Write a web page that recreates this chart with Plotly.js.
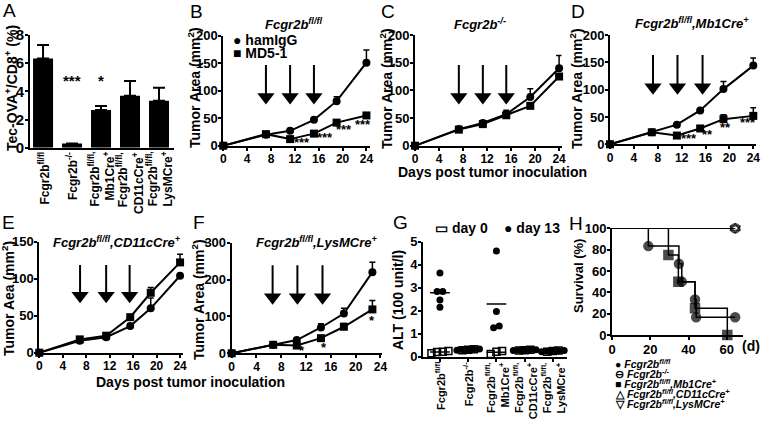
<!DOCTYPE html>
<html><head><meta charset="utf-8">
<script src="https://cdn.plot.ly/plotly-3.0.1.min.js"></script>
<style>
html,body{margin:0;padding:0;background:#fff;}
#chart{width:763px;height:421px;}
</style>
</head><body><div id="chart"></div>
<script>
// ---------- DATA ----------
// Panel A
const genotypeLabels = ['Fcgr2b<sup>fl/fl</sup>', 'Fcgr2b<sup>-/-</sup>', 'Fcgr2b<sup>fl/fl,</sup><br>Mb1Cre<sup>+</sup>', 'Fcgr2b<sup>fl/fl,</sup><br>CD11cCre<sup>+</sup>', 'Fcgr2b<sup>fl/fl,</sup><br>LysMCre<sup>+</sup>'];
const tetMean = [6.34, 0.3, 2.67, 3.69, 3.34];
const tetSem  = [0.95, 0.0, 0.29, 1.04, 0.92];
const tetSig  = ['', '***', '*', '', ''];

// Panel B  Fcgr2b fl/fl
const daysB = [0, 7.15, 11.2, 15.2, 19.0, 24];
const hamB = [0, 20, 27, 47, 81, 151];
const hamBErr = [0, 0, 0, 2, 8, 23];
const md5B = [0, 21, 12, 22, 42, 55];
const md5BErr = [0, 0, 0, 0, 0, 3];
const sigB = ['', '', '***', '***', '***', '***'];
const injB = [7.15, 11.2, 15.2];

// Panel C  Fcgr2b -/-
const daysC = [0, 7.3, 11.3, 15.2, 19.2, 24];
const hamC = [0, 30, 41, 57, 88, 140];
const hamCErr = [0, 0, 4, 7, 15, 23];
const md5C = [0, 29, 39, 55, 72, 125];
const md5CErr = [0, 0, 2, 3, 0, 0];
const injC = [7.3, 11.3, 15.2];

// Panel D  Mb1Cre
const daysD = [0, 7.0, 11.2, 15.1, 19.0, 24];
const hamD = [0, 22, 36, 62, 101, 144];
const hamDErr = [0, 0, 0, 2, 14, 14];
const md5D = [0, 22, 16, 29, 46, 52];
const md5DErr = [0, 0, 0, 0, 8, 15];
const sigD = ['', '', '***', '**', '**', '***'];
const injD = [7.2, 11.3, 15.5];

// Panel E  CD11cCre
const daysE = [0, 6.9, 11.4, 15.5, 19.0, 24];
const hamE = [0, 16, 21, 36, 60, 104];
const hamEErr = [0, 0, 0, 0, 14, 0];
const md5E = [0, 18, 23, 48, 81, 122];
const md5EErr = [0, 0, 0, 0, 7, 11];
const injE = [6.95, 11.4, 15.4];

// Panel F  LysMCre
const daysF = [0, 6.7, 10.5, 14.4, 18.1, 22.7];
const hamF = [0, 23, 36, 70, 108, 220];
const hamFErr = [0, 0, 0, 10, 14, 27];
const md5F = [0, 23, 21, 41, 72, 119];
const md5FErr = [0, 0, 0, 0, 9, 24];
const sigF = ['', '', '*', '*', '', '*'];
const injF = [6.6, 10.6, 14.65];

// Panel G  ALT
const altDay0 = [[0.22, 0.15, 0.25, 0.2], [0.3, 0.28, 0.32], [0.22, 0.25, 0.12], [0.28, 0.3, 0.27], [0.25, 0.22, 0.27]];
const altDay13 = [[3.64, 2.83, 2.83, 2.46, 2.15], [0.3, 0.33, 0.28, 0.32, 0.3], [4.6, 1.96, 1.33, 1.26], [0.28, 0.3, 0.27, 0.29, 0.3], [0.25, 0.22, 0.27, 0.24, 0.26]];

// Panel H  survival
const survNames = ['Fcgr2b<sup>fl/fl</sup>', 'Fcgr2b<sup>-/-</sup>', 'Fcgr2b<sup>fl/fl</sup>,Mb1Cre<sup>+</sup>', 'Fcgr2b<sup>fl/fl</sup>,CD11cCre<sup>+</sup>', 'Fcgr2b<sup>fl/fl</sup>,LysMCre<sup>+</sup>'];
const survFlDays = [0, 19, 35, 36.5, 43.4, 44, 64.4];
const survFlPct = [100, 83.3, 66.7, 50, 33.3, 16.7, 16.7];
const survKODays = [0, 64.4];
const survKOPct = [100, 100];
const survMb1Days = [0, 29.5, 34.7, 43.4, 60.3];
const survMb1Pct = [100, 75, 50, 25, 0];
const survCD11cDays = [0, 64.4];
const survCD11cPct = [100, 100];
const survLysMDays = [0, 64.4];
const survLysMPct = [100, 100];

// ---------- LAYOUT HELPERS ----------
const W = 763, H = 421;
const FONT = '"Liberation Sans", Arial, sans-serif';
const xd = (a, b) => [a / W, b / W];
const yd = (top, bottom) => [1 - bottom / H, 1 - top / H];
const K = '#000';

function axis(extra) {
  return Object.assign({
    showline: true, linewidth: 2, linecolor: K, ticks: 'outside', ticklen: 3, tickwidth: 2, tickcolor: K,
    showgrid: false, zeroline: false, fixedrange: true, ticklabelstandoff: -2,
    tickfont: {family: FONT, size: 12, weight: 'bold', color: K}
  }, extra);
}
const tf = (s) => ({family: FONT, size: s, weight: 'bold', color: K});
const dayTicks = [0, 4, 8, 12, 16, 20, 24];

const traces = [];
const annotations = [];

// category labels under a categorical axis (A and G)
function catLabels(xa, topPx, size) {
  genotypeLabels.forEach((t, i) => {
    annotations.push({xref: xa, yref: 'paper', x: i, y: 1 - topPx / H, text: t, showarrow: false,
      textangle: -90, xanchor: 'center', yanchor: 'top', align: 'right', borderpad: 0,
      font: {family: FONT, size: size, weight: 'bold', color: K}});
  });
}

// ---------- PANEL A ----------
traces.push({
  type: 'bar', x: tetMean.map((v, i) => i), y: tetMean, xaxis: 'x', yaxis: 'y', width: 0.69,
  marker: {color: K}, showlegend: false,
  error_y: {type: 'data', symmetric: false, array: tetSem, arrayminus: tetSem.map(() => 0), color: K, thickness: 2, width: 6}
});
tetSig.forEach((s, i) => {
  if (s) annotations.push({xref: 'x', yref: 'y', x: i, y: 4.75, text: s, showarrow: false,
    font: {family: FONT, size: 15, weight: 'bold', color: K}});
});
catLabels('x', 151, 12);

// ---------- LINE PANELS ----------
function linePanel(xa, ya, days, ham, hamErr, md5, md5Err) {
  const zeros = days.map(() => 0);
  const common = {type: 'scatter', mode: 'lines+markers', xaxis: xa, yaxis: ya, cliponaxis: false, showlegend: false};
  traces.push(Object.assign({}, common, {x: days, y: ham, line: {color: K, width: 2},
    marker: {symbol: 'circle', size: 8, color: K},
    error_y: {type: 'data', symmetric: false, array: hamErr, arrayminus: zeros, color: K, thickness: 1.5, width: 3}}));
  traces.push(Object.assign({}, common, {x: days, y: md5, line: {color: K, width: 2},
    marker: {symbol: 'square', size: 8, color: K},
    error_y: {type: 'data', symmetric: false, array: md5Err, arrayminus: zeros, color: K, thickness: 1.5, width: 3}}));
}
function arrows(xa, ya, inj, ymax, topFrac, headFrac) {
  const sx = [], sy = [];
  inj.forEach(d => { sx.push(d, d, null); sy.push(topFrac * ymax, headFrac * ymax, null); });
  traces.push({type: 'scatter', mode: 'lines', x: sx, y: sy, xaxis: xa, yaxis: ya, line: {color: K, width: 2}, showlegend: false, cliponaxis: false});
  traces.push({type: 'scatter', mode: 'markers', x: inj, y: inj.map(() => headFrac * ymax), xaxis: xa, yaxis: ya,
    marker: {symbol: 'triangle-down', size: 15, color: K}, showlegend: false, cliponaxis: false});
}
// star offsets (pixels) relative to the MD5-1 point: [dx, dy-down]
function stars(xa, ya, days, vals, sig, offs) {
  let k = 0;
  sig.forEach((s, i) => {
    if (s) {
      const o = offs[k++];
      annotations.push({xref: xa, yref: ya, x: days[i], y: vals[i], text: s, showarrow: false,
        xshift: o[0], yshift: -o[1], font: {family: FONT, size: 13, weight: 'bold', color: K}});
    }
  });
}

arrows('x2', 'y2', injB, 200, 0.734, 0.443);
linePanel('x2', 'y2', daysB, hamB, hamBErr, md5B, md5BErr);
stars('x2', 'y2', daysB, md5B, sigB, [[12, 3], [11, 4], [7, 7], [-3, 9]]);

arrows('x3', 'y3', injC, 200, 0.73, 0.44);
linePanel('x3', 'y3', daysC, hamC, hamCErr, md5C, md5CErr);

arrows('x4', 'y4', injD, 200, 0.817, 0.522);
linePanel('x4', 'y4', daysD, hamD, hamDErr, md5D, md5DErr);
stars('x4', 'y4', daysD, md5D, sigD, [[12, 3], [7, 6], [2, 8], [-5, 7]]);

arrows('x5', 'y5', injE, 150, 0.79, 0.514);
linePanel('x5', 'y5', daysE, hamE, hamEErr, md5E, md5EErr);

arrows('x6', 'y6', injF, 300, 0.797, 0.507);
linePanel('x6', 'y6', daysF, hamF, hamFErr, md5F, md5FErr);
stars('x6', 'y6', daysF, md5F, sigF, [[5, 5], [3, 9], [0, 11]]);

// ---------- PANEL G ----------
function spread(vals, center) {
  const idx = vals.map((v, i) => i).sort((a, b) => vals[a] - vals[b]);
  const xs = new Array(vals.length);
  let cl = [idx[0]];
  const flush = () => { const n = cl.length; cl.forEach((k, j) => { xs[k] = center + (j - (n - 1) / 2) * 0.2; }); };
  for (let i = 1; i < idx.length; i++) {
    if (vals[idx[i]] - vals[idx[i - 1]] < 0.2) cl.push(idx[i]); else { flush(); cl = [idx[i]]; }
  }
  flush();
  return xs;
}
function collect(groups) {
  const x = [], y = [], mx = [], my = [];
  groups.forEach((g, i) => {
    spread(g, i).forEach((v, j) => { x.push(v); y.push(g[j]); });
    const m = g.reduce((a, b) => a + b, 0) / g.length;
    mx.push(i - 0.35, i + 0.35, null); my.push(m, m, null);
  });
  return {x, y, mx, my};
}
const g0 = collect(altDay0), g13 = collect(altDay13);
traces.push({type: 'scatter', mode: 'lines', x: g0.mx, y: g0.my, xaxis: 'x7', yaxis: 'y7', line: {color: K, width: 1.5}, showlegend: false, cliponaxis: false});
traces.push({type: 'scatter', mode: 'markers', x: g0.x, y: g0.y, xaxis: 'x7', yaxis: 'y7',
  marker: {symbol: 'square-open', size: 7, color: K, line: {width: 1.5, color: K}}, showlegend: false, cliponaxis: false});
traces.push({type: 'scatter', mode: 'lines', x: g13.mx, y: g13.my, xaxis: 'x7', yaxis: 'y7', line: {color: K, width: 1.5}, showlegend: false, cliponaxis: false});
traces.push({type: 'scatter', mode: 'markers', x: g13.x, y: g13.y, xaxis: 'x7', yaxis: 'y7',
  marker: {symbol: 'circle', size: 7, color: K}, showlegend: false, cliponaxis: false});
catLabels('x7', 361, 11);

// ---------- PANEL H ----------
function surv(x, y, symbol) {
  traces.push({type: 'scatter', mode: 'lines+markers', x: x, y: y, xaxis: 'x8', yaxis: 'y8', line: {shape: 'hv', color: K, width: 1.5},
    marker: {symbol: symbol, size: x.map((v, i) => i === 0 ? 0 : 9), color: K, line: {width: 1.5, color: K}},
    showlegend: false, cliponaxis: false});
}
surv(survKODays, survKOPct, 'circle-open');
surv(survCD11cDays, survCD11cPct, 'triangle-up-open');
surv(survLysMDays, survLysMPct, 'triangle-down-open');
surv(survMb1Days, survMb1Pct, 'square');
surv(survFlDays, survFlPct, 'circle');

// ---------- TEXT ANNOTATIONS ----------
function txt(x, y, text, opts) {
  opts = opts || {};
  annotations.push({
    xref: 'paper', yref: 'paper', x: x / W, y: 1 - y / H, text: text, showarrow: false,
    xanchor: opts.xanchor || 'center', yanchor: 'middle', textangle: opts.angle || 0,
    font: {family: FONT, size: opts.size || 14, weight: opts.weight || 'bold', style: opts.style || 'normal', color: K}
  });
}
// panel letters
[['A', 9, 11], ['B', 196, 12], ['C', 388, 12], ['D', 578, 12], ['E', 8, 222], ['F', 199, 222], ['G', 400, 222], ['H', 576, 223]]
  .forEach(p => txt(p[1], p[2], p[0], {size: 19, weight: 'normal'}));
// panel titles
txt(293, 24, 'Fcgr2b<sup>fl/fl</sup>', {size: 13, style: 'italic'});
txt(480, 24, 'Fcgr2b<sup>-/-</sup>', {size: 13, style: 'italic'});
txt(692, 23, 'Fcgr2b<sup>fl/fl</sup>,Mb1Cre<sup>+</sup>', {size: 13, style: 'italic'});
txt(117, 242, 'Fcgr2b<sup>fl/fl</sup>,CD11cCre<sup>+</sup>', {size: 13, style: 'italic'});
txt(317, 242, 'Fcgr2b<sup>fl/fl</sup>,LysMCre<sup>+</sup>', {size: 13, style: 'italic'});
// axis titles
txt(11, 88, 'Tec-OVA<sup>+</sup>/CD8<sup>+</sup> (%)', {angle: -90});
txt(194, 88, 'Tumor Area (mm<sup>2</sup>)', {angle: -90});
txt(386, 89, 'Tumor Area (mm<sup>2</sup>)', {angle: -90});
txt(576, 89, 'Tumor Area (mm<sup>2</sup>)', {angle: -90});
txt(8, 299, 'Tumor Aea (mm<sup>2</sup>)', {angle: -90});
txt(198, 300, 'Tumor Area (mm<sup>2</sup>)', {angle: -90});
txt(398, 300, 'ALT (100 unit/l)', {angle: -90});
txt(578, 276, 'Survival (%)', {angle: -90, size: 13});
txt(492, 172, 'Days post tumor inoculation');
txt(190, 382, 'Days post tumor inoculation');
txt(751, 346, '(d)');
// legends
txt(231, 40, '\u25CF hamIgG', {xanchor: 'left'});
txt(231, 53, '\u25A0 MD5-1', {xanchor: 'left'});
txt(433, 228, '\u25AD day 0', {xanchor: 'left'});
txt(502, 228, '\u25CF day 13', {xanchor: 'left'});
const survGlyphs = ['\u25CF', '\u2296', '\u25A0', '\u25B3', '\u25BD'];
survNames.forEach((n, i) => txt(613, 363 + i * 10, survGlyphs[i] + ' <i>' + n + '</i>', {xanchor: 'left', size: 10.5}));

// ---------- LAYOUT ----------
const layout = {
  width: W, height: H, margin: {l: 0, r: 0, t: 0, b: 0}, paper_bgcolor: '#fff', plot_bgcolor: 'rgba(0,0,0,0)',
  showlegend: false, font: {family: FONT, color: K},
  xaxis: axis({domain: xd(30, 173.5), range: [-0.45, 4.5], anchor: 'y', tickvals: [0, 1, 2, 3, 4], showticklabels: false, ticks: ''}),
  yaxis: axis({domain: yd(35, 147.7), range: [0, 8], dtick: 2, anchor: 'x', tickfont: tf(15)}),
  xaxis2: axis({domain: xd(223.3, 370), range: [0, 24.6], anchor: 'y2', tickvals: dayTicks}),
  yaxis2: axis({domain: yd(35.7, 145.7), range: [0, 200], dtick: 50, anchor: 'x2', tickfont: tf(13)}),
  xaxis3: axis({domain: xd(415, 561.5), range: [0, 24.4], anchor: 'y3', tickvals: dayTicks}),
  yaxis3: axis({domain: yd(35, 145.7), range: [0, 200], dtick: 50, anchor: 'x3', tickfont: tf(13)}),
  xaxis4: axis({domain: xd(610, 756), range: [0, 24.45], anchor: 'y4', tickvals: dayTicks}),
  yaxis4: axis({domain: yd(35, 144.3), range: [0, 200], dtick: 50, anchor: 'x4', tickfont: tf(13)}),
  xaxis5: axis({domain: xd(39.3, 183), range: [0, 24.5], anchor: 'y5', tickvals: dayTicks}),
  yaxis5: axis({domain: yd(241.7, 352.7), range: [0, 150], dtick: 50, anchor: 'x5', tickfont: tf(13)}),
  xaxis6: axis({domain: xd(231.7, 381.7), range: [0, 24.2], anchor: 'y6', tickvals: dayTicks}),
  yaxis6: axis({domain: yd(242.7, 353.3), range: [0, 300], dtick: 100, anchor: 'x6', tickfont: tf(13)}),
  xaxis7: axis({domain: xd(423, 567), range: [-0.6, 4.5], anchor: 'y7', tickvals: [0, 1, 2, 3, 4], showticklabels: false, ticklen: 3}),
  yaxis7: axis({domain: yd(241.7, 356.7), range: [0, 5], dtick: 1, anchor: 'x7', tickfont: tf(13)}),
  xaxis8: axis({domain: xd(612, 743), range: [0, 68.5], dtick: 20, anchor: 'y8', tickfont: tf(13)}),
  yaxis8: axis({domain: yd(228.3, 335), range: [0, 100], dtick: 20, anchor: 'x8', tickfont: tf(13)}),
  annotations: annotations
};

Plotly.newPlot('chart', traces, layout, {staticPlot: true, displayModeBar: false});
</script>
</body></html>
